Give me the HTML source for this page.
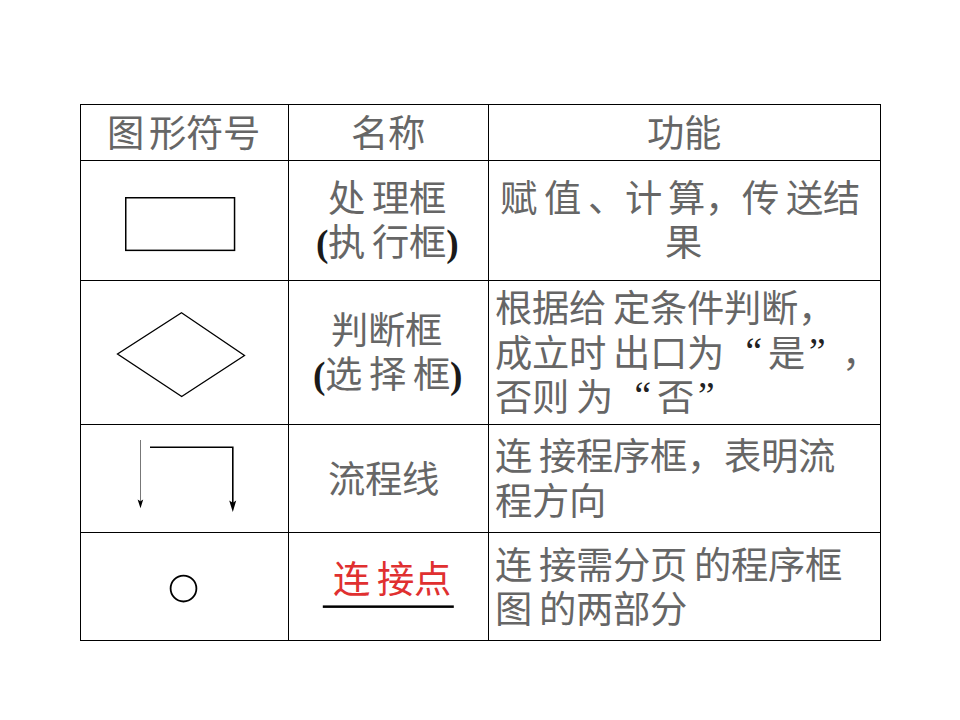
<!DOCTYPE html>
<html lang="zh-CN">
<head>
<meta charset="utf-8">
<style>
html,body{margin:0;padding:0;background:#fff;}
body{width:960px;height:720px;position:relative;overflow:hidden;font-family:"Liberation Serif",serif;}
.h{position:absolute;background:#000;height:1px;}
.v{position:absolute;background:#000;width:1px;}
.t{position:absolute;white-space:pre;font-size:37.33px;line-height:40px;color:#666;word-spacing:-2.5px;}
.qo,.qc{display:inline-block;width:37.33px;box-sizing:border-box;position:relative;top:-3px;color:#222;}
.qo{text-align:right;padding-right:6px;}
.qc{text-align:left;padding-left:4px;}
.p{font-weight:bold;font-family:"Liberation Serif",serif;color:#1a1a1a;}
svg{position:absolute;left:0;top:0;}
</style>
</head>
<body>
<!-- grid -->
<div class="h" style="left:80px;top:104px;width:801px"></div>
<div class="h" style="left:80px;top:160px;width:801px"></div>
<div class="h" style="left:80px;top:280px;width:801px"></div>
<div class="h" style="left:80px;top:424px;width:801px"></div>
<div class="h" style="left:80px;top:532px;width:801px"></div>
<div class="h" style="left:80px;top:640px;width:801px"></div>
<div class="v" style="left:80px;top:104px;height:537px"></div>
<div class="v" style="left:288px;top:104px;height:537px"></div>
<div class="v" style="left:488px;top:104px;height:537px"></div>
<div class="v" style="left:880px;top:104px;height:537px"></div>

<svg width="960" height="720" viewBox="0 0 960 720">
<rect x="125.75" y="197.75" width="108.8" height="52.6" fill="none" stroke="#000" stroke-width="1.5"/>
<polygon points="181.5,312.7 244.5,355.5 181.7,396.5 117.5,354" fill="none" stroke="#000" stroke-width="1.3"/>
<line x1="140.5" y1="440" x2="140.5" y2="501" stroke="#777" stroke-width="1"/>
<polygon points="137.6,499.6 140.5,501.2 143.2,499.6 140.5,508.2" fill="#000"/>
<polyline points="150,447.2 232.8,447.2 232.8,503" fill="none" stroke="#000" stroke-width="1.6"/>
<polygon points="229.2,500.6 232.8,502.8 236.2,500.6 232.8,512" fill="#000"/>
<circle cx="183.5" cy="588.6" r="12.9" fill="none" stroke="#000" stroke-width="1.8"/>
<rect x="322.8" y="605.4" width="131" height="2.5" fill="#000"/>
</svg>

<!-- header -->
<div class="t" style="left:107px;top:115px;word-spacing:-4.5px">图 形符号</div>
<div class="t" style="left:351px;top:115px">名称</div>
<div class="t" style="left:647px;top:115px">功能</div>

<!-- row 1 -->
<div class="t" style="left:328px;top:180px">处 理框</div>
<div class="t" style="left:316px;top:224px"><span class="p">(</span>执 行框<span class="p">)</span></div>
<div class="t" style="left:500px;top:180px">赋 值 、计 算，传 送结</div>
<div class="t" style="left:665px;top:224px">果</div>

<!-- row 2 -->
<div class="t" style="left:331px;top:312px">判断框</div>
<div class="t" style="left:313px;top:356px"><span class="p">(</span>选 择 框<span class="p">)</span></div>
<div class="t" style="left:495px;top:290px">根据给 定条件判断，</div>
<div class="t" style="left:495px;top:335px">成立时 出口为 <span class="qo">“</span>是<span class="qc">”</span>，</div>
<div class="t" style="left:495px;top:379px">否则 为 <span class="qo">“</span>否<span class="qc">”</span></div>

<!-- row 3 -->
<div class="t" style="left:328px;top:461px">流程线</div>
<div class="t" style="left:495px;top:438px">连 接程序框，表明流</div>
<div class="t" style="left:495px;top:483px">程方向</div>

<!-- row 4 -->
<div class="t" style="left:333px;top:561px;color:#e03030">连 接点</div>
<div class="t" style="left:495px;top:547px">连 接需分页 的程序框</div>
<div class="t" style="left:495px;top:591px">图 的两部分</div>
</body>
</html>
